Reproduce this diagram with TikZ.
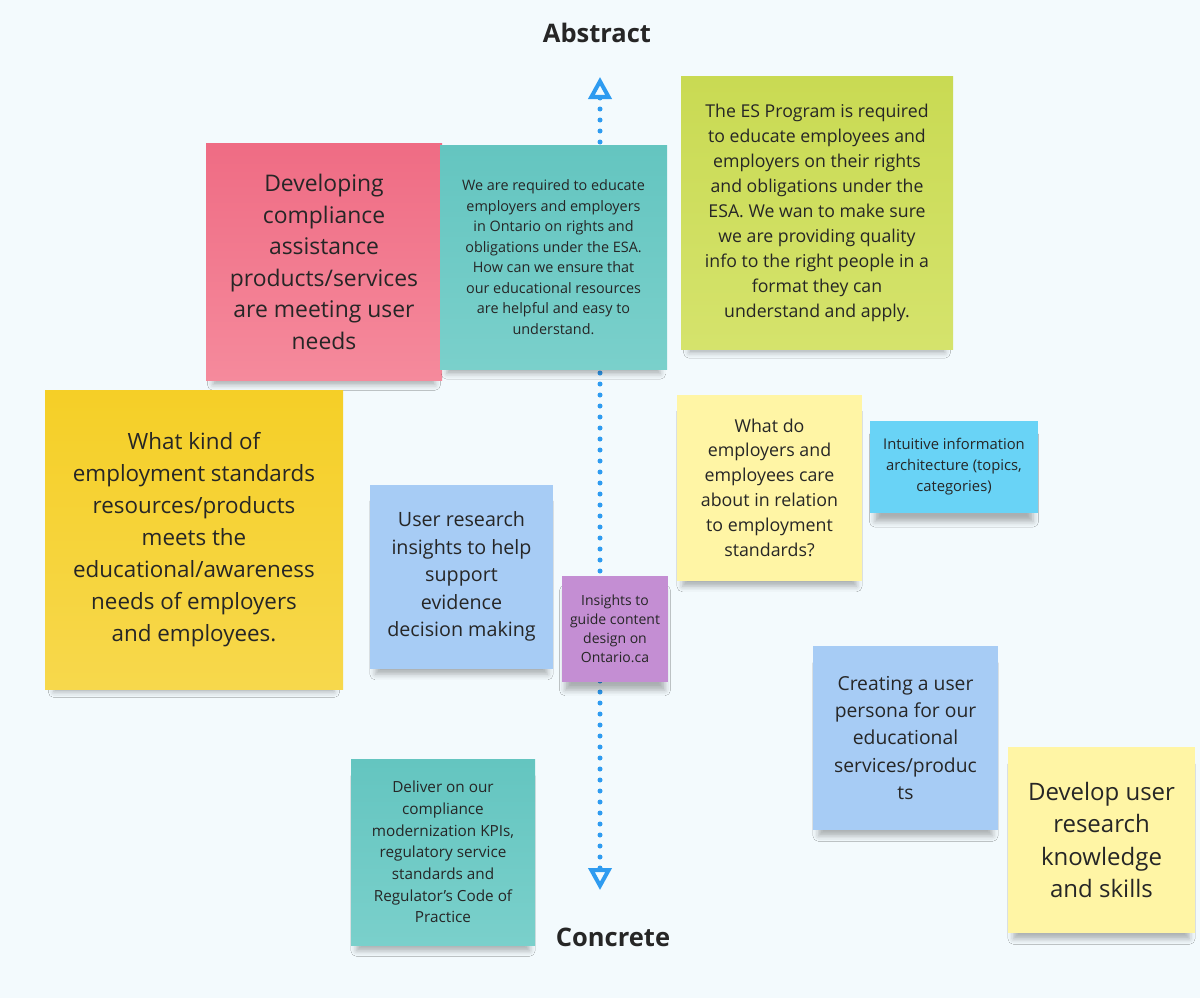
\documentclass[tikz,border=0pt]{standalone}
\usepackage{fontspec}
\setmainfont{Open Sans}
\usetikzlibrary{arrows.meta,shadows.blur}
\definecolor{boardBg}{HTML}{F3FAFD}
\definecolor{boardInk}{HTML}{262626}
\definecolor{axisBlue}{HTML}{2E9BF0}
\definecolor{notePinkA}{HTML}{EF6C84}
\definecolor{notePinkB}{HTML}{F58A9C}
\definecolor{noteTealA}{HTML}{64C5C0}
\definecolor{noteTealB}{HTML}{7AD0CB}
\definecolor{noteLimeA}{HTML}{C9DA53}
\definecolor{noteLimeB}{HTML}{D5E36C}
\definecolor{noteGoldA}{HTML}{F5CF27}
\definecolor{noteGoldB}{HTML}{F7D84C}
\definecolor{noteCream}{HTML}{FFF5A5}
\definecolor{noteCyan}{HTML}{69D3F6}
\definecolor{noteSky}{HTML}{A7CCF5}
\definecolor{notePurple}{HTML}{C48ED3}
\begin{document}
\begin{tikzpicture}[x=1pt,y=-1pt,line cap=round,line join=round]
\path[fill=boardBg] (0,0) rectangle (1200,998);
\tikzset{note/.style={inner sep=0pt,align=center,text=boardInk,blur shadow={shadow xshift=0pt,shadow yshift=-12pt,shadow scale=0.94,shadow blur radius=6pt,shadow opacity=30}},
 axisline/.style={draw=axisBlue,line width=5pt,dash pattern=on 0pt off 11pt,line cap=round},
 axislabel/.style={font=\fontsize{25.5}{30}\selectfont\bfseries,text=boardInk}}
% vertical axis
\node[axislabel] (abstract) at (597,33) {Abstract};
\node[axislabel] (concrete) at (613,937) {Concrete};
\coordinate (abtip) at (600,77);
\coordinate (cotip) at (600,890);
\draw[axisline,{Triangle[open,length=22pt,width=23pt,line width=4pt]}-{Triangle[open,length=22pt,width=23pt,line width=4pt]}] (abtip) -- (cotip);
% sticky notes
\node[note,minimum width=236pt,minimum height=237pt,top color=notePinkA,bottom color=notePinkB,font=\fontsize{22.9}{31.6}\selectfont] (devcomp) at (324,262) {Developing\\compliance\\assistance\\products/services\\are meeting user\\needs};
\node[note,minimum width=227pt,minimum height=224pt,top color=noteTealA,bottom color=noteTealB,font=\fontsize{14.4}{20.5}\selectfont] (educate) at (553.5,257) {We are required to educate\\employers and employers\\in Ontario on rights and\\obligations under the ESA.\\How can we ensure that\\our educational resources\\are helpful and easy to\\understand.};
\node[note,minimum width=272pt,minimum height=273pt,top color=noteLimeA,bottom color=noteLimeB,font=\fontsize{17.7}{25}\selectfont] (esprog) at (817,213) {The ES Program is required\\to educate employees and\\employers on their rights\\and obligations under the\\ESA. We wan to make sure\\we are providing quality\\info to the right people in a\\format they can\\understand and apply.};
\node[note,minimum width=298pt,minimum height=299pt,top color=noteGoldA,bottom color=noteGoldB,font=\fontsize{22.4}{32}\selectfont] (whatkind) at (194,540) {What kind of\\employment standards\\resources/products\\meets the\\educational/awareness\\needs of employers\\and employees.};
\node[note,minimum width=185pt,minimum height=186pt,fill=noteCream,font=\fontsize{17.8}{24.8}\selectfont] (whatdo) at (769.5,487.5) {What do\\employers and\\employees care\\about in relation\\to employment\\standards?};
\node[note,minimum width=168pt,minimum height=92pt,fill=noteCyan,font=\fontsize{14.8}{21}\selectfont] (intuit) at (954,467) {Intuitive information\\architecture (topics,\\categories)};
\node[note,minimum width=183pt,minimum height=184pt,fill=noteSky,font=\fontsize{19.7}{27.5}\selectfont] (insights) at (461.5,576.5) {User research\\insights to help\\support\\evidence\\decision making};
\node[note,minimum width=106pt,minimum height=106pt,fill=notePurple,font=\fontsize{14}{19}\selectfont] (guide) at (615,629) {Insights to\\guide content\\design on\\Ontario.ca};
\node[note,minimum width=185pt,minimum height=184pt,fill=noteSky,font=\fontsize{19.3}{27.3}\selectfont] (persona) at (905.5,738) {Creating a user\\persona for our\\educational\\services/produc\\ts};
\node[note,minimum width=187pt,minimum height=186pt,fill=noteCream,font=\fontsize{24}{32.3}\selectfont] (develop) at (1101.5,840) {Develop user\\research\\knowledge\\and skills};
\node[note,minimum width=184pt,minimum height=186pt,top color=noteTealA,bottom color=noteTealB,font=\fontsize{15.3}{21.7}\selectfont] (deliver) at (443,852) {Deliver on our\\compliance\\modernization KPIs,\\regulatory service\\standards and\\Regulator's Code of\\Practice};
\end{tikzpicture}
\end{document}
